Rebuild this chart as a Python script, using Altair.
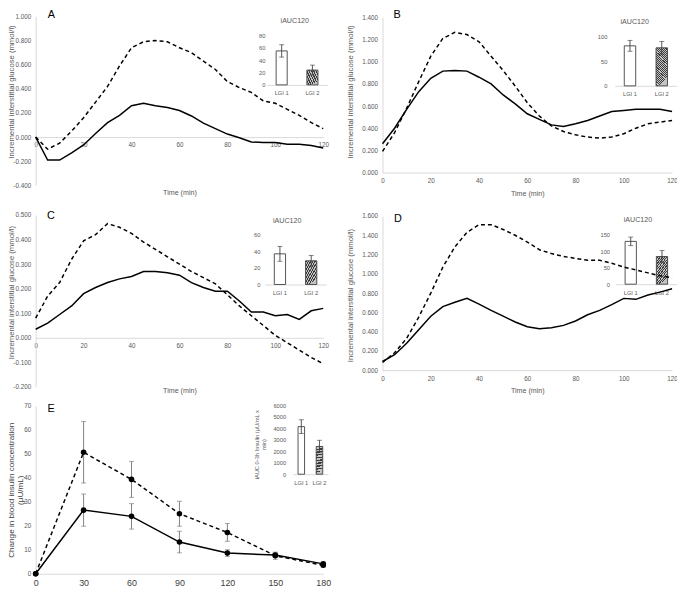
import altair as alt
import pandas as pd

W, H = 677, 584
FONT = "Liberation Sans"
TXT = "#595959"
LINE = "#d9d9d9"

# ---------------- data ----------------
time_glucose = [0, 5, 10, 15, 20, 25, 30, 35, 40, 45, 50, 55, 60, 65, 70, 75, 80, 85, 90, 95, 100, 105, 110, 115, 120]

a_solid = [0, -0.19, -0.19, -0.13, -0.065, 0.03, 0.12, 0.18, 0.26, 0.28, 0.26, 0.245, 0.22, 0.175, 0.115, 0.07, 0.025, -0.005, -0.04, -0.045, -0.045, -0.06, -0.06, -0.07, -0.09]
a_dashed = [0, -0.10, -0.05, 0.05, 0.16, 0.29, 0.42, 0.59, 0.74, 0.79, 0.80, 0.79, 0.74, 0.70, 0.63, 0.56, 0.46, 0.41, 0.37, 0.30, 0.28, 0.23, 0.18, 0.12, 0.07]

b_solid = [0.26, 0.40, 0.57, 0.73, 0.85, 0.915, 0.92, 0.915, 0.86, 0.80, 0.70, 0.62, 0.53, 0.48, 0.43, 0.415, 0.44, 0.47, 0.51, 0.55, 0.56, 0.57, 0.57, 0.57, 0.55]
b_dashed = [0.19, 0.36, 0.58, 0.82, 1.05, 1.21, 1.265, 1.245, 1.18, 1.05, 0.92, 0.78, 0.63, 0.51, 0.42, 0.37, 0.34, 0.32, 0.31, 0.32, 0.35, 0.40, 0.44, 0.455, 0.47]

c_solid = [0.035, 0.06, 0.095, 0.13, 0.18, 0.205, 0.225, 0.24, 0.25, 0.27, 0.27, 0.265, 0.255, 0.225, 0.205, 0.19, 0.19, 0.15, 0.105, 0.105, 0.09, 0.095, 0.075, 0.11, 0.12]
c_dashed = [0.08, 0.17, 0.225, 0.32, 0.395, 0.42, 0.465, 0.45, 0.425, 0.39, 0.36, 0.33, 0.30, 0.27, 0.245, 0.22, 0.175, 0.13, 0.09, 0.05, 0.01, -0.02, -0.05, -0.08, -0.105]

d_solid = [0.09, 0.16, 0.28, 0.42, 0.56, 0.66, 0.705, 0.745, 0.685, 0.62, 0.56, 0.50, 0.45, 0.43, 0.44, 0.465, 0.51, 0.575, 0.62, 0.68, 0.745, 0.735, 0.78, 0.81, 0.845]
d_dashed = [0.08, 0.18, 0.33, 0.55, 0.80, 1.07, 1.28, 1.43, 1.51, 1.51, 1.46, 1.40, 1.33, 1.25, 1.21, 1.18, 1.16, 1.14, 1.14, 1.11, 1.07, 1.04, 1.01, 0.98, 0.96]

time_insulin = [0, 30, 60, 90, 120, 150, 180]
e_solid = [0, 26.5, 23.9, 13.2, 8.6, 7.8, 4.1]
e_solid_err = [0, 6.7, 5.3, 4.5, 1.4, 0.9, 0.7]
e_dashed = [0, 50.6, 39.3, 25.0, 17.2, 7.5, 3.5]
e_dashed_err = [0, 12.8, 7.5, 5.2, 3.7, 1.5, 0.8]

groups = ["LGI 1", "LGI 2"]
auc_a = [55, 24]
auc_a_err = [10, 8]
auc_b = [81, 77]
auc_b_err = [11, 13]
auc_c = [37, 28.6]
auc_c_err = [9, 6.5]
auc_d = [130, 84]
auc_d_err = [13, 18]
auc_e = [4150, 2420]
auc_e_err = [600, 540]

glucose_time_ticks = [0, 20, 40, 60, 80, 100, 120]
insulin_time_ticks = [0, 30, 60, 90, 120, 150, 180]

# ---------------- helpers ----------------
LABEL3 = "(datum.value < 0 ? '-' : '') + format(abs(datum.value), '.3f')"

hatch_stops = []
N_STRIPES = 20
for k in range(N_STRIPES):
    a0 = k / N_STRIPES
    a1 = (k + 0.5) / N_STRIPES
    a2 = (k + 1) / N_STRIPES
    hatch_stops += [
        alt.GradientStop(offset=a0, color="#3c3c3c"),
        alt.GradientStop(offset=a1, color="#3c3c3c"),
        alt.GradientStop(offset=a1, color="#c4c4c4"),
        alt.GradientStop(offset=a2, color="#c4c4c4"),
    ]
HATCH = alt.LinearGradient(gradient="linear", stops=hatch_stops, x1=0, y1=0, x2=0.35, y2=1)


def glucose_panel(solid, dashed, ydom, yticks, xr, yr, title_dy, ytitle_dx, ytitle_y, letter, letter_xy):
    y0 = yr[0] + (0 - ydom[0]) / (ydom[1] - ydom[0]) * (yr[1] - yr[0])
    xscale = alt.Scale(domain=[0, 120], range=xr, nice=False, zero=False)
    yscale = alt.Scale(domain=ydom, range=yr, nice=False, zero=False)
    xaxis = alt.Axis(orient="bottom", offset=y0 - H, values=glucose_time_ticks, title="Time (min)",
                     titleY=title_dy, titleBaseline="middle", labelPadding=5,
                     labelFontSize=6.4, titleFontSize=7.2)
    yaxis = alt.Axis(orient="left", offset=-xr[0], values=yticks, labelExpr=LABEL3,
                     title="Incremental interstitial glucose (mmol/l)", titleX=ytitle_dx, titleY=ytitle_y,
                     titleAngle=-90, titleBaseline="middle", titleAlign="center", labelPadding=5,
                     labelFontSize=6.4, titleFontSize=7.8)
    X = alt.X("t:Q", scale=xscale, axis=xaxis)
    Y = alt.Y("v:Q", scale=yscale, axis=yaxis)
    df_s = pd.DataFrame({"t": time_glucose, "v": solid})
    df_d = pd.DataFrame({"t": time_glucose, "v": dashed})
    ls = alt.Chart(df_s).mark_line(color="black", strokeWidth=1.5).encode(x=X, y=Y)
    ld = alt.Chart(df_d).mark_line(color="black", strokeWidth=1.5, strokeDash=[4, 3]).encode(x=X, y=Y)
    lab = alt.Chart(pd.DataFrame({"t": [letter_xy[0]], "v": [letter_xy[1]], "s": [letter]})).mark_text(
        font=FONT, fontSize=11, color="black", align="center", baseline="middle").encode(x=X, y=Y, text="s:N")
    return alt.layer(ls, ld, lab)


def inset(vals, errs, ydom, yticks, xr, yr, ylab_x, title=None, title_xy=None, ytitle=None, ytitle_x=None, ytitle_y=None):
    df = pd.DataFrame({
        "g": groups,
        "v": vals,
        "lo": [v - e for v, e in zip(vals, errs)],
        "hi": [v + e for v, e in zip(vals, errs)],
    })
    xscale = alt.Scale(type="band", domain=groups, range=xr, paddingInner=0.64, paddingOuter=0.3)
    yscale = alt.Scale(domain=ydom, range=yr, nice=False, zero=True)
    xa = dict(orient="bottom", offset=yr[0] - H, labelAngle=0, labelPadding=5, labelFontSize=5.8,
              ticks=False)
    if title is not None:
        xa.update(title=title, titleX=title_xy[0], titleY=title_xy[1] - yr[0], titleBaseline="middle",
                  titleAlign="center", titleFontSize=7.2)
    else:
        xa.update(title=None)
    ya = dict(orient="left", offset=-(ylab_x + 2), values=yticks, domain=False, ticks=False,
              labelPadding=2, labelFontSize=5.8, format="d")
    if ytitle is not None:
        ya.update(title=ytitle, titleX=ytitle_x - (ylab_x + 2), titleY=ytitle_y, titleAngle=-90,
                  titleBaseline="top", titleAlign="center", titleFontSize=5.8, titleLineHeight=8)
    else:
        ya.update(title=None)
    X = alt.X("g:N", scale=xscale, axis=alt.Axis(**xa))

    def Y(f):
        return alt.Y(f"{f}:Q", scale=yscale, axis=alt.Axis(**ya))

    base = alt.Chart(df)
    bar1 = base.transform_filter(alt.datum.g == "LGI 1").mark_bar(
        fill="white", stroke="#404040", strokeWidth=0.9).encode(x=X, y=Y("v"))
    bar2 = base.transform_filter(alt.datum.g == "LGI 2").mark_bar(
        fill=HATCH, stroke="#404040", strokeWidth=0.9).encode(x=X, y=Y("v"))
    rule = base.mark_rule(color="#404040", strokeWidth=0.9).encode(x=X, y=Y("lo"), y2="hi:Q")
    cap_hi = base.mark_tick(orient="horizontal", size=5, thickness=0.9, color="#404040").encode(x=X, y=Y("hi"))
    cap_lo = base.mark_tick(orient="horizontal", size=5, thickness=0.9, color="#404040").encode(x=X, y=Y("lo"))
    return alt.layer(bar1, bar2, rule, cap_hi, cap_lo)


def insulin_panel():
    xr = [28, 319]
    yr = [569, 399]
    xscale = alt.Scale(domain=[0, 180], range=xr, nice=False, zero=False)
    yscale = alt.Scale(domain=[0, 70], range=yr, nice=False, zero=False)
    xaxis = alt.Axis(orient="bottom", offset=yr[0] - H, values=insulin_time_ticks, title=None,
                     labelPadding=5, labelFontSize=9, labelColor="#404040")
    yaxis = alt.Axis(orient="left", offset=-xr[0], values=[0, 10, 20, 30, 40, 50, 60, 70],
                     labelPadding=5, labelFontSize=6.4,
                     title=["Change in blood insulin concentration", "(µU/mL)"],
                     titleX=-28, titleY=484, titleAngle=-90, titleBaseline="top", titleAlign="center",
                     titleFontSize=8.2, titleLineHeight=8.5, titleColor="#404040")

    def Y(f):
        return alt.Y(f"{f}:Q", scale=yscale, axis=yaxis)

    X = alt.X("t:Q", scale=xscale, axis=xaxis)
    rows = []
    for series, vals, errs in (("solid", e_solid, e_solid_err), ("dashed", e_dashed, e_dashed_err)):
        for t, v, e in zip(time_insulin, vals, errs):
            rows.append({"t": t, "v": v, "lo": v - e, "hi": v + e, "s": series})
    df = pd.DataFrame(rows)
    base = alt.Chart(df)
    err = base.transform_filter(alt.datum.t > 0).mark_rule(color="#7f7f7f", strokeWidth=1).encode(
        x=X, y=Y("lo"), y2="hi:Q")
    cap_hi = base.transform_filter(alt.datum.t > 0).mark_tick(
        orient="horizontal", size=5, thickness=1, color="#7f7f7f").encode(x=X, y=Y("hi"))
    cap_lo = base.transform_filter(alt.datum.t > 0).mark_tick(
        orient="horizontal", size=5, thickness=1, color="#7f7f7f").encode(x=X, y=Y("lo"))
    ls = base.transform_filter(alt.datum.s == "solid").mark_line(color="black", strokeWidth=1.5).encode(
        x=X, y=Y("v"))
    ld = base.transform_filter(alt.datum.s == "dashed").mark_line(
        color="black", strokeWidth=1.5, strokeDash=[4, 3]).encode(x=X, y=Y("v"))
    pts = base.mark_circle(color="black", size=32, opacity=1).encode(x=X, y=Y("v"))
    lab = alt.Chart(pd.DataFrame({"t": [9.6], "v": [68.8], "s": ["E"]})).mark_text(
        font=FONT, fontSize=11, color="black", align="center", baseline="middle").encode(
        x=X, y=Y("v"), text="s:N")
    return alt.layer(err, cap_hi, cap_lo, ls, ld, pts, lab)


panel_a = glucose_panel(a_solid, a_dashed, [-0.4, 1.0], [-0.4, -0.2, 0, 0.2, 0.4, 0.6, 0.8, 1.0],
                        [28, 319], [176, 5], 56, -24.5, 81, "A", [6.6, 1.008])
panel_b = glucose_panel(b_solid, b_dashed, [0, 1.4], [0, 0.2, 0.4, 0.6, 0.8, 1.0, 1.2, 1.4],
                        [379, 672], [163, 6], 21.7, -32, 81, "B", [6.1, 1.418])
panel_c = glucose_panel(c_solid, c_dashed, [-0.2, 0.5], [-0.2, -0.1, 0, 0.1, 0.2, 0.3, 0.4, 0.5],
                        [28, 319], [380, 206], 53.7, -24.5, 284, "C", [6.4, 0.496])
panel_d = glucose_panel(d_solid, d_dashed, [0, 1.6], [0, 0.2, 0.4, 0.6, 0.8, 1.0, 1.2, 1.4, 1.6],
                        [379, 672], [363, 207], 21, -32, 287, "D", [6.35, 1.569])
panel_e = insulin_panel()

inset_a = inset(auc_a, auc_a_err, [0, 80], [0, 20, 40, 60, 80], [262, 323], [74.3, 24.3], 260,
                "iAUC120", [289.7, 9])
inset_b = inset(auc_b, auc_b_err, [0, 100], [0, 50, 100], [614, 677], [75.3, 25.3], 606,
                "iAUC120", [633.7, 10])
inset_c = inset(auc_c, auc_c_err, [0, 60], [0, 20, 40, 60], [260, 322], [276.3, 226], 255,
                "iAUC120", [282, 212])
inset_d = inset(auc_d, auc_d_err, [0, 150], [0, 50, 100, 150], [615, 677], [276, 226], 608.7,
                "iAUC120", [637, 211])
inset_e = inset(auc_e, auc_e_err, [0, 6000], [0, 1000, 2000, 3000, 4000, 5000, 6000], [288, 324],
                [468.3, 398.7], 281, None, None,
                ["iAUC 0-3h Insulin (µU/mL x", "min)"], 248, 438)

chart = alt.layer(
    inset_a, inset_b, inset_c, inset_d, inset_e,
    panel_a, panel_b, panel_c, panel_d, panel_e,
).resolve_scale(
    x="independent", y="independent"
).resolve_axis(
    x="independent", y="independent"
).properties(
    width=W, height=H, autosize=alt.AutoSizeParams(type="none"), padding=0
).configure_view(
    stroke=None
).configure_axis(
    grid=False, ticks=False, labelFont=FONT, titleFont=FONT, labelColor=TXT, titleColor=TXT,
    titleFontWeight="normal", domainColor=LINE, domainWidth=1, labelFlush=False, labelOverlap=False
)

chart.save("out.html", embed_options={"renderer": "svg", "actions": False})
